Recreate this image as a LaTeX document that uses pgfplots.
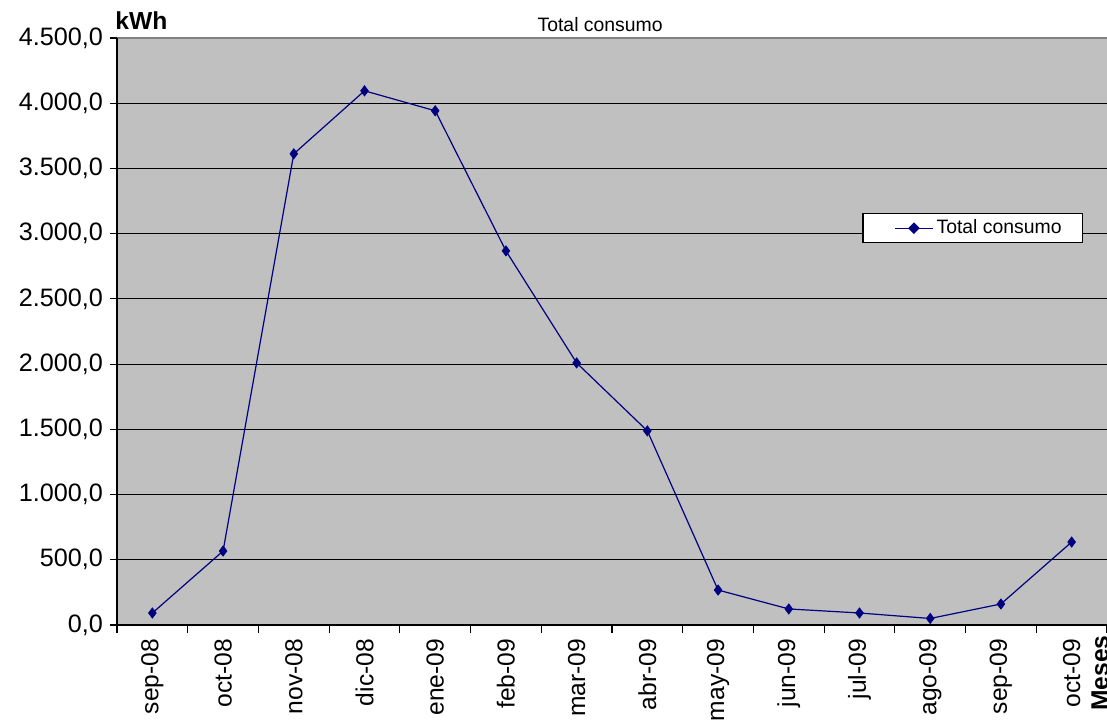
\documentclass[border=0pt]{standalone}
\usepackage{pgfplots}
\pgfplotsset{compat=1.18}
\usepackage{fontspec}
\setmainfont{Liberation Sans}
\definecolor{plotbg}{HTML}{C0C0C0}
\definecolor{navyline}{HTML}{000080}
\begin{document}
\begin{tikzpicture}[x=1pt,y=1pt]
\useasboundingbox (-58.5pt,-50.5pt) rectangle (495pt,312.5pt);
\begin{axis}[
  at={(0,0)}, anchor=south west,
  scale only axis,
  width=495pt, height=293.5pt,
  xmin=-0.5, xmax=13.5,
  ymin=0, ymax=4500,
  ytick={0,500,...,4500},
  xtick={0,...,13},
  xticklabels={sep-08,oct-08,nov-08,dic-08,ene-09,feb-09,mar-09,abr-09,may-09,jun-09,jul-09,ago-09,sep-09,oct-09},
  major x tick style={draw=none},
  minor xtick={-0.5,0.5,...,13.5},
  minor x tick style={black, line width=0.6pt},
  minor tick length=4pt,
  major tick length=3.5pt,
  tick align=outside,
  xtick pos=bottom, ytick pos=left,
  axis line style={draw=none},
  axis background/.style={fill=plotbg},
  ymajorgrids,
  major grid style={black, line width=0.6pt},
  y tick style={black, line width=0.6pt},
  xticklabel style={rotate=90, anchor=east, font=\fontsize{12.3}{14}\selectfont, yshift=0pt},
  yticklabel style={font=\fontsize{12.6}{14}\selectfont},
  /pgf/number format/.cd, fixed, fixed zerofill, precision=1, use comma, 1000 sep={.}, assume math mode=true,
  /pgfplots/.cd,
  legend style={at={(rel axis cs:0.976,0.676)}, anchor=east, draw=black, fill=white, line width=0.6pt,
    font=\fontsize{9.7}{11}\selectfont, inner xsep=0pt, inner ysep=1pt,
    nodes={inner xsep=1.5pt, inner ysep=2pt}},
  legend cell align=left,
  legend image code/.code={
    \path[draw=none, fill=none] (0pt,0pt) rectangle (35pt,0.1pt);
    \draw[navyline, line width=0.6pt] (16pt,0pt) -- (35pt,0pt);
    \fill[navyline] (25.5pt,0pt) +(0,2.5pt) -- +(2.5pt,0) -- +(0,-2.5pt) -- +(-2.5pt,0) -- cycle;
  },
  clip=false,
]
\addplot[navyline, line width=0.6pt, mark=diamond*, mark size=2.6pt, mark options={fill=navyline, draw=navyline, line width=0.3pt}]
  coordinates {
  (0,92) (1,567) (2,3612) (3,4095) (4,3942) (5,2868) (6,2009) (7,1488)
  (8,268) (9,123) (10,92) (11,50) (12,161) (13,636)
  };
\addlegendentry{Total consumo\kern9pt}
\draw[gray, line width=0.6pt] (rel axis cs:0,1) -- (rel axis cs:1,1);
\draw[black, line width=0.7pt] (rel axis cs:0,1) -- (rel axis cs:0,0) -- (rel axis cs:1,0);
\node[anchor=south, inner sep=0pt, font=\fontsize{9.7}{11}\selectfont] at (rel axis cs:0.488,1) [yshift=3pt] {Total consumo};
\node[anchor=base west, inner sep=0pt, font=\bfseries\fontsize{12.3}{14}\selectfont] at (rel axis cs:0,1) [xshift=-1pt, yshift=4pt] {kWh};
\node[xshift=-3.5pt, yshift=-5pt, rotate=90, anchor=east, inner sep=0pt, font=\bfseries\fontsize{12.3}{14}\selectfont] at (rel axis cs:1,0) {Meses};
\end{axis}
\end{tikzpicture}
\end{document}
